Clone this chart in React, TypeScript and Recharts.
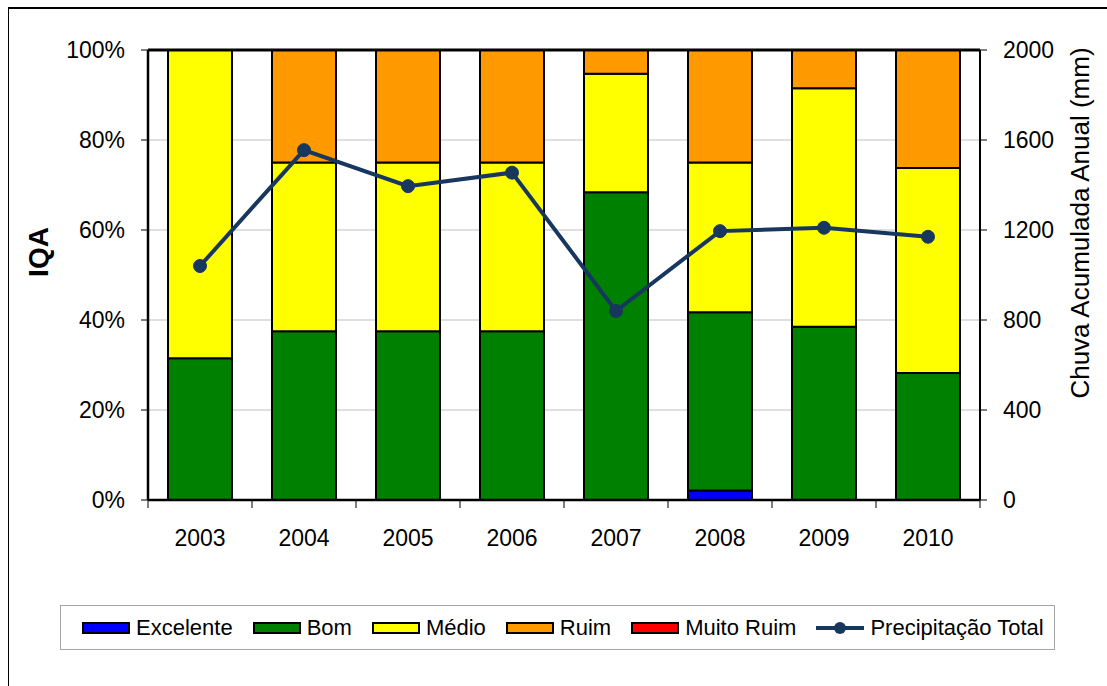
import React from 'react';
import {
  ComposedChart,
  Bar,
  Line,
  XAxis,
  YAxis,
  CartesianGrid,
  ReferenceLine,
  Legend,
} from 'recharts';

// Annual water quality index (IQA) class shares and total yearly rainfall
const years = ['2003', '2004', '2005', '2006', '2007', '2008', '2009', '2010'];
const excelente = [0, 0, 0, 0, 0, 0.021, 0, 0];
const bom = [0.315, 0.375, 0.375, 0.375, 0.684, 0.396, 0.385, 0.282];
const medio = [0.685, 0.375, 0.375, 0.375, 0.263, 0.333, 0.53, 0.456];
const ruim = [0, 0.25, 0.25, 0.25, 0.053, 0.25, 0.085, 0.262];
const muitoRuim = [0, 0, 0, 0, 0, 0, 0, 0];
const precipitacao = [1040, 1555, 1395, 1455, 840, 1195, 1210, 1170];

const pctTicks = [0, 0.2, 0.4, 0.6, 0.8, 1];
const mmTicks = [0, 400, 800, 1200, 1600, 2000];

const seriesNames = ['Excelente', 'Bom', 'Médio', 'Ruim', 'Muito Ruim'];
const seriesKeys = ['excelente', 'bom', 'medio', 'ruim', 'muitoRuim'];
const seriesColors = ['#0000FF', '#008000', '#FFFF00', '#FF9900', '#FF0000'];
const lineName = 'Precipitação Total';
const lineColor = '#17375E';

const data = years.map((year, i) => ({
  year,
  excelente: excelente[i],
  bom: bom[i],
  medio: medio[i],
  ruim: ruim[i],
  muitoRuim: muitoRuim[i],
  precipitacao: precipitacao[i],
}));

const FONT = '"Liberation Sans", Arial, sans-serif';

const XTick = (props: any) => {
  const { x, y, payload, index, visibleTicksCount } = props;
  const half = payload && payload.offset ? payload.offset : 52;
  const last = index === (visibleTicksCount ?? years.length) - 1;
  return (
    <g>
      <line x1={x - half} y1={y} x2={x - half} y2={y + 8} stroke="#000" strokeWidth={1} />
      {last && <line x1={x + half} y1={y} x2={x + half} y2={y + 8} stroke="#000" strokeWidth={1} />}
      <text
        x={x}
        y={y + 30}
        dy="0.71em"
        textAnchor="middle"
        fill="#000"
        fontSize={23}
        fontFamily={FONT}
      >
        {payload.value}
      </text>
    </g>
  );
};

const LegendBox = () => (
  <div
    style={{
      boxSizing: 'border-box',
      width: 995,
      height: 45,
      border: '1px solid #A6A6A6',
      background: '#fff',
      display: 'flex',
      alignItems: 'center',
      paddingLeft: 21,
      fontFamily: FONT,
      fontSize: 22,
      color: '#000',
      whiteSpace: 'nowrap',
    }}
  >
    {seriesNames.map((name, i) => (
      <div key={name} style={{ display: 'flex', alignItems: 'center', marginRight: 20 }}>
        <span
          style={{
            display: 'inline-block',
            boxSizing: 'border-box',
            width: 48,
            height: 12,
            background: seriesColors[i],
            border: '2px solid #000',
            marginRight: 6,
          }}
        />
        <span>{name}</span>
      </div>
    ))}
    <div style={{ display: 'flex', alignItems: 'center' }}>
      <svg width={48} height={14} style={{ marginRight: 6 }}>
        <line x1={0} y1={7} x2={48} y2={7} stroke={lineColor} strokeWidth={4} />
        <circle cx={24} cy={7} r={6} fill={lineColor} />
      </svg>
      <span>{lineName}</span>
    </div>
  </div>
);

export default function App() {
  return (
    <div style={{ position: 'relative', width: 1091, height: 670 }}>
      <ComposedChart
        width={1091}
        height={670}
        data={data}
        margin={{ top: 42, right: 39, bottom: 93, left: 60 }}
        style={{ fontFamily: FONT }}
      >
        <CartesianGrid yAxisId="left" vertical={false} stroke="#BFBFBF" strokeWidth={1} />
        <XAxis
          dataKey="year"
          height={40}
          interval={0}
          axisLine={{ stroke: '#000', strokeWidth: 2.5 }}
          tickLine={false}
          tickSize={0}
          tickMargin={0}
          tick={<XTick />}
        />
        <YAxis
          yAxisId="left"
          width={80}
          domain={[0, 1]}
          ticks={pctTicks}
          interval={0}
          tickFormatter={(v: number) => `${Math.round(v * 100)}%`}
          axisLine={{ stroke: '#000', strokeWidth: 2.5 }}
          tickLine={{ stroke: '#000', strokeWidth: 1 }}
          tickSize={7}
          tickMargin={16}
          tick={{ fill: '#000', fontSize: 23, fontFamily: FONT }}
          label={{
            content: ({ viewBox }: any) => {
              const cx = viewBox.x - 30;
              const cy = viewBox.y + viewBox.height / 2 - 23;
              return (
                <text
                  x={cx}
                  y={cy}
                  transform={`rotate(-90 ${cx} ${cy})`}
                  textAnchor="middle"
                  dominantBaseline="central"
                  fontSize={28}
                  fontWeight="bold"
                  fontFamily={FONT}
                  fill="#000"
                >
                  IQA
                </text>
              );
            },
          }}
        />
        <YAxis
          yAxisId="right"
          orientation="right"
          width={80}
          domain={[0, 2000]}
          ticks={mmTicks}
          interval={0}
          axisLine={{ stroke: '#000', strokeWidth: 2 }}
          tickLine={{ stroke: '#000', strokeWidth: 1 }}
          tickSize={7}
          tickMargin={16}
          tick={{ fill: '#000', fontSize: 23, fontFamily: FONT }}
          label={{
            content: ({ viewBox }: any) => {
              const cx = viewBox.x + 100;
              const cy = viewBox.y + viewBox.height / 2 - 52;
              return (
                <text
                  x={cx}
                  y={cy}
                  transform={`rotate(-90 ${cx} ${cy})`}
                  textAnchor="middle"
                  dominantBaseline="central"
                  fontSize={26}
                  fontFamily={FONT}
                  fill="#000"
                >
                  Chuva Acumulada Anual (mm)
                </text>
              );
            },
          }}
        />
        {seriesKeys.map((key, i) => (
          <Bar
            key={key}
            yAxisId="left"
            dataKey={key}
            name={seriesNames[i]}
            stackId="iqa"
            fill={seriesColors[i]}
            stroke="#000"
            strokeWidth={2}
            barSize={64}
            isAnimationActive={false}
          />
        ))}
        <ReferenceLine yAxisId="left" y={1} stroke="#000" strokeWidth={3} />
        <Line
          yAxisId="right"
          dataKey="precipitacao"
          name={lineName}
          type="linear"
          stroke={lineColor}
          strokeWidth={4}
          dot={{ r: 6.5, fill: lineColor, stroke: lineColor, strokeWidth: 1 }}
          isAnimationActive={false}
        />
        <Legend
          content={<LegendBox />}
          wrapperStyle={{ left: 52, top: 597, bottom: 'auto', width: 995, height: 45 }}
        />
      </ComposedChart>
      {/* outer frame of the chart sheet: top and left edges */}
      <div
        style={{
          position: 'fixed',
          top: 7,
          left: 8,
          width: 1099,
          height: 679,
          boxSizing: 'border-box',
          borderTop: '2px solid #000',
          borderLeft: '1px solid #000',
          pointerEvents: 'none',
          zIndex: 5,
        }}
      />
    </div>
  );
}
